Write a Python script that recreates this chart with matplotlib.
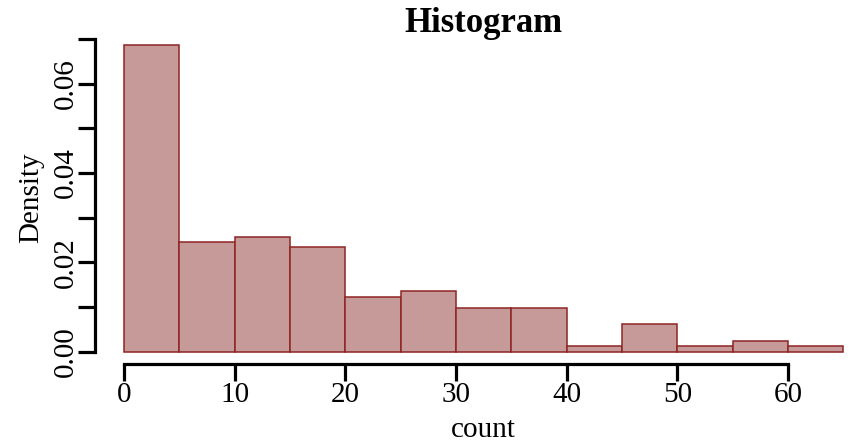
import numpy as np
import matplotlib
matplotlib.use("Agg")
import matplotlib.pyplot as plt

# bin edges (width 5) and counts
bin_edges = [0, 5, 10, 15, 20, 25, 30, 35, 40, 45, 50, 55, 60, 65]
counts = [56, 20, 21, 19, 10, 11, 8, 8, 1, 5, 1, 2, 1]
x_ticks = [0, 10, 20, 30, 40, 50, 60]
y_ticks = [0.00, 0.01, 0.02, 0.03, 0.04, 0.05, 0.06, 0.07]
y_tick_labels = ["0.00", "", "0.02", "", "0.04", "", "0.06", ""]

plt.rcParams["font.family"] = ["Liberation Serif", "DejaVu Serif"]

edges = np.array(bin_edges, dtype=float)
widths = np.diff(edges)
density = np.array(counts) / (sum(counts) * widths)

fig = plt.figure(figsize=(8.49, 4.44), dpi=100)
ax = fig.add_axes([0.1121, 0.1802, 0.9153, 0.7471])

ax.bar(edges[:-1], density, width=widths, align="edge",
       color="#C79A9A", edgecolor="#8E2424", linewidth=1.1)

# R-style 4% padding around the data range
xr = edges[-1] - edges[0]
ax.set_xlim(edges[0] - 0.04 * xr, edges[-1] + 0.04 * xr)
ymax = density.max()
ax.set_ylim(-0.04 * ymax, 1.04 * ymax)

for s in ("top", "right"):
    ax.spines[s].set_visible(False)
for s in ("left", "bottom"):
    ax.spines[s].set_linewidth(2.3)
ax.spines["bottom"].set_bounds(x_ticks[0], x_ticks[-1])
ax.spines["left"].set_bounds(y_ticks[0], y_ticks[-1])

ax.set_xticks(x_ticks)
ax.set_xticklabels([str(t) for t in x_ticks])
ax.set_yticks(y_ticks)
ax.set_yticklabels(y_tick_labels, rotation=90, va="center")
ax.tick_params(axis="both", direction="out", length=12, width=2.3,
               labelsize=21, colors="black")
ax.tick_params(axis="x", pad=1)
ax.tick_params(axis="y", pad=0)

ax.set_xlabel("count", fontsize=21)
ax.set_ylabel("Density", fontsize=21)
ax.xaxis.set_label_coords(0.5, -0.16)
ax.yaxis.set_label_coords(-0.066, 0.5)

# fixed y so matplotlib does not push the title up
ax.set_title("Histogram", fontsize=25, fontweight="bold", pad=0, y=1.0)

fig.savefig("out.png", dpi=100)
